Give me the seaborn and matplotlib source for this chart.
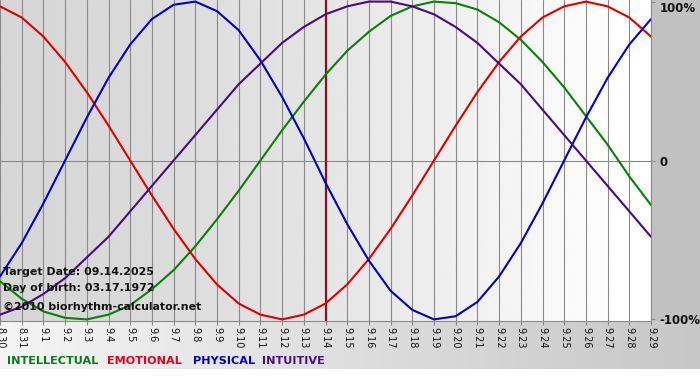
import numpy as np
import pandas as pd
import matplotlib
matplotlib.use("Agg")
import matplotlib.pyplot as plt
import seaborn as sns

# ---------------- data ----------------
days = ["8.30", "8.31", "9.1", "9.2", "9.3", "9.4", "9.5", "9.6", "9.7", "9.8",
        "9.9", "9.10", "9.11", "9.12", "9.13", "9.14", "9.15", "9.16", "9.17",
        "9.18", "9.19", "9.20", "9.21", "9.22", "9.23", "9.24", "9.25", "9.26",
        "9.27", "9.28", "9.29"]

intellectual = [-0.76, -0.87, -0.95, -0.99, -1.00, -0.97, -0.91, -0.81, -0.69, -0.54,
                -0.37, -0.19, 0.00, 0.19, 0.37, 0.54, 0.69, 0.81, 0.91, 0.97,
                1.00, 0.99, 0.95, 0.87, 0.76, 0.62, 0.46, 0.28, 0.10, -0.10, -0.28]
emotional = [0.97, 0.90, 0.78, 0.62, 0.43, 0.22, 0.00, -0.22, -0.43, -0.62,
             -0.78, -0.90, -0.97, -1.00, -0.97, -0.90, -0.78, -0.62, -0.43, -0.22,
             0.00, 0.22, 0.43, 0.62, 0.78, 0.90, 0.97, 1.00, 0.97, 0.90, 0.78]
physical = [-0.73, -0.52, -0.27, 0.00, 0.27, 0.52, 0.73, 0.89, 0.98, 1.00,
            0.94, 0.82, 0.63, 0.40, 0.14, -0.14, -0.40, -0.63, -0.82, -0.94,
            -1.00, -0.98, -0.89, -0.73, -0.52, -0.27, 0.00, 0.27, 0.52, 0.73, 0.89]
intuitive = [-0.97, -0.92, -0.84, -0.74, -0.61, -0.48, -0.32, -0.16, 0.00, 0.16,
             0.32, 0.48, 0.61, 0.74, 0.84, 0.92, 0.97, 1.00, 1.00, 0.97,
             0.92, 0.84, 0.74, 0.61, 0.48, 0.32, 0.16, 0.00, -0.16, -0.32, -0.48]

series_names = ["INTELLECTUAL", "EMOTIONAL", "PHYSICAL", "INTUITIVE"]
target_day = "9.14"
y_ticks = [-1, 0, 1]
y_labels = ["-100%", "0", "100%"]
info_lines = ["Target Date: 09.14.2025", "Day of birth: 03.17.1972"]
copyright_text = "\u00a92010 biorhythm-calculator.net"

# ---------------- styling ----------------
line_colors = {"INTELLECTUAL": "#0b7f0b", "EMOTIONAL": "#e00000",
               "PHYSICAL": "#0000c8", "INTUITIVE": "#4b0a80"}
text_colors = {"INTELLECTUAL": "#0b7a1a", "EMOTIONAL": "#e8001c",
               "PHYSICAL": "#0000cc", "INTUITIVE": "#4f0f82"}

sns.set_theme(style="white")
plt.rcParams["font.family"] = ["DejaVu Sans"]

W, H = 700, 380
fig = plt.figure(figsize=(7, 3.8), dpi=100)
fig.patch.set_facecolor("white")

# figure background (right margin gray, label strip gradient, white bottom)
bg = fig.add_axes([0, 0, 1, 1], zorder=-10)
img = np.ones((H, W, 3))
img[:321, 651:, :] = 0.76
grad = np.linspace(0.96, 0.78, W)
img[321:369, :, :] = grad[None, :, None]
bg.imshow(img, aspect="auto", interpolation="nearest")
bg.axis("off")

# main plotting area
ax = fig.add_axes([0, 59 / H, 651 / W, 321 / H])
ax.patch.set_alpha(0)

n = len(days)
xidx = np.arange(n)
df = pd.DataFrame({
    "x": np.tile(xidx, 4),
    "value": intellectual + emotional + physical + intuitive,
    "rhythm": np.repeat(series_names, n),
})

# gradient plot background
t = np.linspace(0, 1, 300)
pg = (0.84 + 0.17 * t ** 1.5).clip(0, 1)
ax.imshow(np.tile(pg, (2, 1)), cmap="gray", vmin=0, vmax=1, aspect="auto",
          extent=[0, n - 1, -1.01, 1.01], zorder=0, interpolation="bilinear")

sns.lineplot(data=df, x="x", y="value", hue="rhythm", palette=line_colors,
             hue_order=series_names, linewidth=1.5, legend=False, ax=ax,
             zorder=3, estimator=None, sort=False)

ax.set_xlim(0, n - 1)
ax.set_ylim(-1.01, 1.01)
ax.set_xlabel("")
ax.set_ylabel("")

# vertical grid per day + zero line
for i in xidx:
    ax.axvline(i, color="#8a8a8a", lw=0.8, zorder=1)
ax.axhline(0, color="#8a8a8a", lw=0.8, zorder=1)
ax.axvline(days.index(target_day), color="#8b1212", lw=1.6, zorder=2)

ax.set_xticks(xidx)
ax.set_xticklabels(days, rotation=270, fontsize=7, color="#111111")
ax.tick_params(axis="x", length=3, width=0.8, color="#8a8a8a", pad=1,
               bottom=True)

ax.yaxis.tick_right()
ax.set_yticks(y_ticks)
ax.set_yticklabels(y_labels, fontsize=8.5, fontweight="bold", color="#111111")
ax.tick_params(axis="y", length=3, width=0.8, color="#8a8a8a", pad=3,
               right=True, left=False)
for lbl in ax.get_yticklabels():
    if lbl.get_text() == "100%":
        lbl.set_va("top")

for side in ["left", "top"]:
    ax.spines[side].set_visible(False)
for side in ["bottom", "right"]:
    ax.spines[side].set_color("#8a8a8a")
    ax.spines[side].set_linewidth(0.8)

# info text
fig.text(3 / W, 1 - 272 / H, info_lines[0], fontsize=7.9, fontweight="bold",
         color="#111111", va="center", ha="left", zorder=5)
fig.text(3 / W, 1 - 288 / H, info_lines[1], fontsize=7.9, fontweight="bold",
         color="#111111", va="center", ha="left", zorder=5)
fig.text(3 / W, 1 - 307 / H, copyright_text, fontsize=7.9, fontweight="bold",
         color="#111111", va="center", ha="left", zorder=5)

# legend labels
legend_x = [7, 107, 193, 262]
for name, lx in zip(series_names, legend_x):
    fig.text(lx / W, 1 - 361 / H, name, fontsize=8.1, fontweight="bold",
             color=text_colors[name], va="center", ha="left")

fig.savefig("out.png", dpi=100)
